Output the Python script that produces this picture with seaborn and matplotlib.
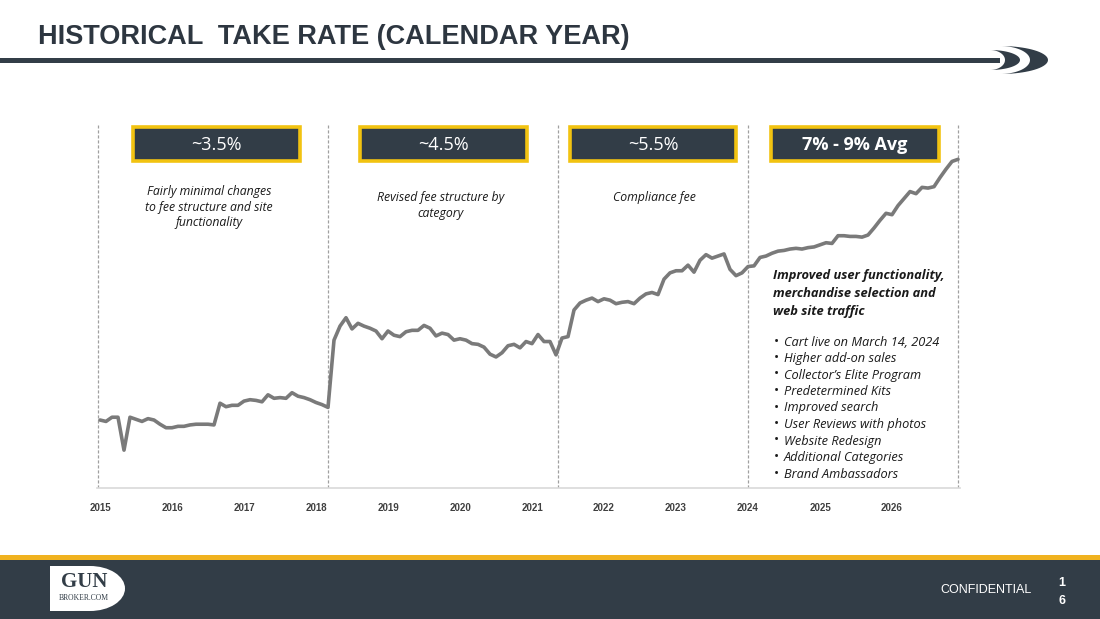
import numpy as np
import pandas as pd
import seaborn as sns
import matplotlib.pyplot as plt
from matplotlib.patches import Rectangle, Polygon, Ellipse

# monthly take rate index, Jan 2015 .. Dec 2026
take_rate = [
    3.50, 3.48, 3.54, 3.54, 3.07, 3.54, 3.51, 3.48, 3.52, 3.50, 3.44, 3.39,
    3.39, 3.41, 3.41, 3.43, 3.44, 3.44, 3.44, 3.43, 3.74, 3.69, 3.71, 3.71,
    3.77, 3.79, 3.78, 3.76, 3.86, 3.81, 3.82, 3.81, 3.89, 3.84, 3.82, 3.79,
    3.75, 3.72, 3.68, 4.64, 4.84, 4.96, 4.80, 4.88, 4.84, 4.81, 4.77, 4.66,
    4.77, 4.71, 4.69, 4.76, 4.78, 4.78, 4.85, 4.81, 4.70, 4.74, 4.72, 4.64,
    4.66, 4.64, 4.59, 4.58, 4.54, 4.44, 4.40, 4.46, 4.56, 4.58, 4.53, 4.62,
    4.59, 4.72, 4.62, 4.62, 4.43, 4.67, 4.69, 5.07, 5.17, 5.21, 5.24, 5.19,
    5.23, 5.21, 5.16, 5.18, 5.19, 5.16, 5.24, 5.30, 5.32, 5.29, 5.51, 5.60,
    5.63, 5.63, 5.71, 5.61, 5.78, 5.86, 5.81, 5.84, 5.87, 5.65, 5.56, 5.60,
    5.69, 5.70, 5.82, 5.84, 5.88, 5.91, 5.92, 5.94, 5.95, 5.94, 5.96, 5.97,
    6.00, 6.03, 6.02, 6.13, 6.13, 6.12, 6.12, 6.11, 6.14, 6.24, 6.35, 6.45,
    6.43, 6.56, 6.66, 6.76, 6.73, 6.82, 6.81, 6.83, 6.96, 7.08, 7.19, 7.22,
]
years = list(range(2015, 2027))
# era boundaries, in months since Jan 2015
era_breaks = [-0.3, 38, 76.3, 108, 143]
era_labels = ["~3.5%", "~4.5%", "~5.5%", "7% - 9% Avg"]
era_notes = [
    "Fairly minimal changes\nto fee structure and site\nfunctionality",
    "Revised fee structure by\ncategory",
    "Compliance fee",
]
headline = ["Improved user functionality,", "merchandise selection and", "web site traffic"]
bullets = [
    "Cart live on March 14, 2024",
    "Higher add-on sales",
    "Collector\u2019s Elite Program",
    "Predetermined Kits",
    "Improved search",
    "User Reviews with photos",
    "Website Redesign",
    "Additional Categories",
    "Brand Ambassadors",
]

NAVY = "#323d47"
GOLD = "#f2c311"
LINE = "#7a7a7a"

sns.set_style("white")
plt.rcParams["font.family"] = ["Open Sans", "Lato", "DejaVu Sans"]

W, H = 1100, 619
fig = plt.figure(figsize=(11, 6.19), dpi=100)

df = pd.DataFrame({"month": np.arange(len(take_rate)), "rate": take_rate})

ax = fig.add_axes([97 / W, 1 - 488 / H, 863 / W, 363 / H])
sns.lineplot(data=df, x="month", y="rate", ax=ax, color=LINE, linewidth=2.6,
             solid_joinstyle="round", solid_capstyle="round")
ax.set_xlim(-0.5, 143.33)
ax.set_ylim(2.53, 7.71)
ax.set_xticks([12 * i for i in range(len(years))])
ax.set_xticklabels([str(y) for y in years], fontsize=7, fontweight="bold",
                   color="#404040", family=["Liberation Sans", "DejaVu Sans"])
ax.tick_params(axis="x", length=0, pad=11)
ax.set_yticks([])
ax.set_xlabel("")
ax.set_ylabel("")
for s in ["top", "left", "right"]:
    ax.spines[s].set_visible(False)
ax.spines["bottom"].set_color("#d9d9d9")
ax.spines["bottom"].set_linewidth(1.2)
for xb in era_breaks:
    ax.axvline(xb, color="#a0a0a0", lw=0.9, ls=(0, (2.5, 1.5)), zorder=0)

# decoration layer in pixel coordinates
deco = fig.add_axes([0, 0, 1, 1], facecolor="none")
deco.set_xlim(0, W)
deco.set_ylim(H, 0)
deco.axis("off")

deco.text(38, 37, "HISTORICAL  TAKE RATE (CALENDAR YEAR)", fontsize=19.5,
          fontweight="bold", color="#2d3640", va="center", ha="left",
          family=["Liberation Sans Narrow", "Liberation Sans", "DejaVu Sans"])
deco.add_patch(Rectangle((0, 57.5), 1000, 5, color=NAVY, lw=0))


def crescent(cx, cy, rx_out, rx_in, ry):
    t = np.linspace(-np.pi / 2, np.pi / 2, 40)
    outer = np.c_[cx + rx_out * np.cos(t), cy + ry * np.sin(t)]
    inner = np.c_[cx + rx_in * np.cos(t[::-1]), cy + ry * np.sin(t[::-1])]
    return Polygon(np.vstack([outer, inner]), closed=True, color=NAVY, lw=0)


deco.add_patch(crescent(1000, 60, 48, 30, 14))
deco.add_patch(crescent(990, 60, 30, 15, 10))

box_x = [(133, 300), (360, 527), (570, 736), (771, 939)]
for (x0, x1), lab in zip(box_x, era_labels):
    deco.add_patch(Rectangle((x0, 127), x1 - x0, 34, facecolor=NAVY,
                             edgecolor=GOLD, lw=2.6))
    bold = lab.startswith("7%")
    deco.text((x0 + x1) / 2, 145, lab, color="white", ha="center", va="center",
              fontsize=13, fontweight="bold" if bold else "normal")

note_pos = [(209, 207), (441, 205.5), (654, 198)]
for (x, y), note in zip(note_pos, era_notes):
    deco.text(x, y, note, ha="center", va="center", fontsize=8.8,
              style="italic", color="#1a1a1a", linespacing=1.25)

for i, line in enumerate(headline):
    deco.text(773, 276 + 17.5 * i, line, ha="left", va="center", fontsize=9.3,
              style="italic", fontweight="bold", color="#1a1a1a")
for i, b in enumerate(bullets):
    y = 342 + 16.5 * i
    deco.text(774, y, "\u2022", ha="left", va="center", fontsize=10, color="#1a1a1a")
    deco.text(784, y, b, ha="left", va="center", fontsize=9.2,
              style="italic", color="#1a1a1a")

# footer
deco.add_patch(Rectangle((0, 555), W, 5, color="#f0b21f", lw=0))
deco.add_patch(Rectangle((0, 559.5), W, 60, color=NAVY, lw=0))
deco.add_patch(Rectangle((50, 566), 40, 45, color="white", lw=0))
deco.add_patch(Ellipse((90, 588.5), 70, 45, color="white", lw=0))
deco.text(84, 582, "GUN", ha="center", va="center", fontsize=15,
          fontweight="bold", color=NAVY, family=["Liberation Serif", "DejaVu Serif"])
deco.text(84, 598, "BROKER.COM", ha="center", va="center", fontsize=5.5,
          color=NAVY, family=["Liberation Serif", "DejaVu Serif"])
deco.text(1032, 590, "CONFIDENTIAL", ha="right", va="center", fontsize=9,
          color="white", family=["Liberation Sans Narrow", "Liberation Sans", "DejaVu Sans"])
deco.text(1062, 583, "1", ha="center", va="center", fontsize=9, fontweight="bold",
          color="white", family=["Liberation Sans", "DejaVu Sans"])
deco.text(1062, 601, "6", ha="center", va="center", fontsize=9, fontweight="bold",
          color="white", family=["Liberation Sans", "DejaVu Sans"])

fig.savefig("out.png", dpi=100)
